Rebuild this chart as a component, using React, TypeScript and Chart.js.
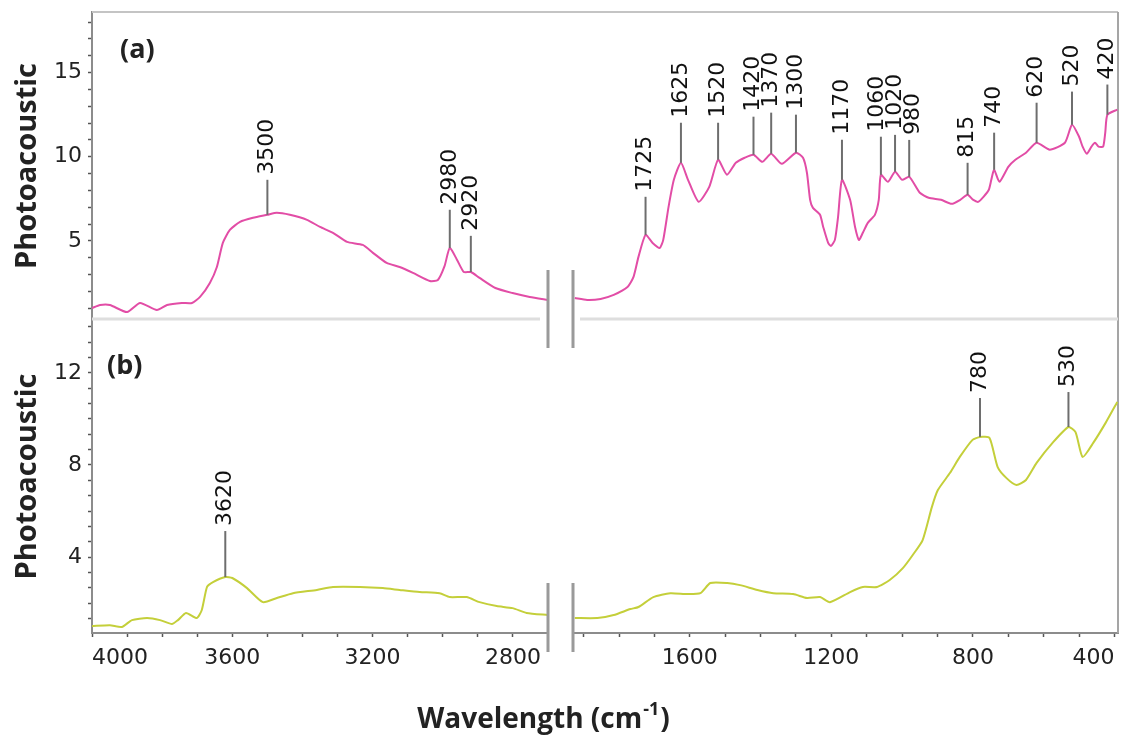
import React, { useEffect, useRef } from 'react';
import { Chart, registerables } from 'chart.js';

Chart.register(...registerables);

// ---------- Panel (a) : pink spectrum ----------
const aLeftWavenumber = [4000, 3977, 3949, 3900, 3863, 3815, 3786, 3744, 3715, 3692, 3664, 3644, 3627, 3607, 3578, 3541, 3500, 3473, 3436, 3387, 3350, 3313, 3273, 3228, 3199, 3160, 3123, 3085, 3037, 3014, 2995, 2980, 2960, 2940, 2920, 2895, 2850, 2801, 2752, 2700];
const aLeftSignal = [1.01, 1.19, 1.19, 0.77, 1.31, 0.89, 1.19, 1.31, 1.31, 1.67, 2.5, 3.45, 4.88, 5.65, 6.13, 6.37, 6.55, 6.67, 6.55, 6.25, 5.83, 5.48, 4.94, 4.76, 4.29, 3.69, 3.45, 3.10, 2.62, 2.68, 3.5, 4.58, 3.9, 3.15, 3.15, 2.80, 2.20, 1.90, 1.67, 1.49];

const aRightWavenumber = [1925, 1890, 1852, 1815, 1776, 1759, 1745, 1725, 1705, 1685, 1675, 1660, 1645, 1625, 1605, 1575, 1545, 1520, 1495, 1470, 1445, 1420, 1395, 1370, 1340, 1300, 1280, 1269, 1260, 1252, 1232, 1223, 1209, 1201, 1190, 1181, 1170, 1147, 1133, 1122, 1111, 1097, 1077, 1066, 1060, 1040, 1020, 1000, 980, 950, 925, 890, 860, 835, 815, 800, 785, 770, 755, 748, 740, 725, 700, 680, 650, 620, 583, 540, 520, 500, 490, 478, 465, 455, 445, 432, 426, 420, 392];
const aRightSignal = [1.61, 1.49, 1.55, 1.79, 2.26, 2.86, 4.05, 5.36, 4.88, 4.58, 5.06, 7.02, 8.63, 9.64, 8.63, 7.32, 8.21, 9.82, 8.93, 9.64, 9.94, 10.12, 9.70, 10.18, 9.58, 10.24, 9.94, 9.05, 7.44, 6.96, 6.55, 5.83, 4.88, 4.70, 5.06, 6.43, 8.63, 7.44, 5.83, 5.06, 5.48, 6.07, 6.55, 7.44, 8.93, 8.51, 9.11, 8.63, 8.81, 7.86, 7.56, 7.44, 7.20, 7.45, 7.74, 7.45, 7.32, 7.62, 8.04, 8.63, 9.23, 8.51, 9.40, 9.82, 10.24, 10.83, 10.42, 10.83, 11.9, 11.19, 10.60, 10.18, 10.60, 10.83, 10.60, 10.60, 11.43, 12.5, 12.8];

// ---------- Panel (b) : yellow-green spectrum ----------
const bLeftWavenumber = [4000, 3949, 3915, 3886, 3843, 3806, 3772, 3755, 3732, 3701, 3687, 3672, 3655, 3620, 3600, 3558, 3513, 3473, 3427, 3359, 3313, 3236, 3171, 3123, 3066, 3009, 2980, 2932, 2895, 2846, 2801, 2761, 2700];
const bLeftSignal = [1.0, 1.04, 0.96, 1.26, 1.35, 1.26, 1.09, 1.26, 1.57, 1.35, 1.70, 2.70, 2.91, 3.13, 3.09, 2.65, 2.04, 2.22, 2.43, 2.57, 2.70, 2.70, 2.65, 2.57, 2.48, 2.43, 2.26, 2.26, 2.04, 1.87, 1.78, 1.57, 1.48];

const bRightWavenumber = [1925, 1861, 1815, 1768, 1745, 1703, 1655, 1607, 1570, 1542, 1494, 1458, 1409, 1364, 1308, 1269, 1232, 1204, 1147, 1111, 1071, 1035, 998, 970, 942, 916, 899, 865, 837, 801, 780, 753, 730, 705, 677, 650, 620, 575, 530, 510, 490, 460, 425, 392];
const bRightSignal = [1.35, 1.35, 1.48, 1.74, 1.83, 2.26, 2.43, 2.39, 2.43, 2.87, 2.87, 2.78, 2.57, 2.43, 2.39, 2.22, 2.26, 2.04, 2.48, 2.70, 2.70, 3.0, 3.52, 4.09, 4.74, 6.17, 6.91, 7.65, 8.35, 9.09, 9.22, 9.17, 7.91, 7.43, 7.13, 7.35, 8.09, 8.96, 9.65, 9.43, 8.35, 8.96, 9.83, 10.74];

// ---------- Peak annotations (wavenumber, height of the marker tip) ----------
const peakAWavenumber = [3500, 2980, 2920, 1725, 1625, 1520, 1420, 1370, 1300, 1170, 1060, 1020, 980, 815, 740, 620, 520, 420];
const peakATip = [8.63, 6.85, 5.30, 7.62, 12.02, 12.02, 12.38, 12.62, 12.5, 11.01, 11.19, 11.3, 11.0, 9.64, 11.43, 13.21, 13.87, 14.29];
const peakBWavenumber = [3620, 780, 530];
const peakBTip = [5.13, 10.91, 11.17];

// ---------- Axes ----------
const xLeftRange = [2700, 4000];
const xRightRange = [390, 1930];
const xLeftTicks = [2700, 2800, 2900, 3000, 3100, 3200, 3300, 3400, 3500, 3600, 3700, 3800, 3900, 4000];
const xLeftLabels = [2800, 3200, 3600, 4000];
const xRightTicks = [400, 500, 600, 700, 800, 900, 1000, 1100, 1200, 1300, 1400, 1500, 1600, 1700, 1800, 1900];
const xRightLabels = [400, 800, 1200, 1600];
const yARange = [0.3, 18.6];
const yATicks = [1, 2, 3, 4, 5, 6, 7, 8, 9, 10, 11, 12, 13, 14, 15, 16, 17, 18];
const yALabels = [5, 10, 15];
const yBRange = [0.7, 14.3];
const yBTicks = [1.333, 2, 2.667, 3.333, 4, 4.667, 5.333, 6, 6.667, 7.333, 8, 8.667, 9.333, 10, 10.667, 11.333, 12, 12.667, 13.333, 14];
const yBLabels = [4, 8, 12];

const PINK = '#e24da6';
const YELLOW = '#c4cf3a';

function toPoints(wn: number[], v: number[]) {
  return wn.map((w, i) => ({ x: w, y: v[i] }));
}

function interp(wn: number[], v: number[], w: number): number {
  for (let i = 0; i < wn.length - 1; i++) {
    const a = wn[i];
    const b = wn[i + 1];
    if ((w <= a && w >= b) || (w >= a && w <= b)) {
      const t = a === b ? 0 : (w - a) / (b - a);
      return v[i] + t * (v[i + 1] - v[i]);
    }
  }
  return v[v.length - 1];
}

function spread(xs: number[], gap: number): number[] {
  const idx = xs.map((_, i) => i).sort((p, q) => xs[p] - xs[q]);
  const pos = idx.map((i) => xs[i]);
  for (let it = 0; it < 60; it++) {
    let moved = false;
    for (let k = 1; k < pos.length; k++) {
      const d = pos[k] - pos[k - 1];
      if (d < gap - 0.01) {
        const m = (gap - d) / 2;
        pos[k - 1] -= m;
        pos[k] += m;
        moved = true;
      }
    }
    if (!moved) break;
  }
  const out: number[] = new Array(xs.length);
  idx.forEach((i, k) => {
    out[i] = pos[k];
  });
  return out;
}

const decorPlugin = {
  id: 'spectraDecor',
  beforeDatasetsDraw(chart: any) {
    const { ctx } = chart;
    const { xl, xr, ya, yb } = chart.scales;
    ctx.save();
    // frame top
    ctx.strokeStyle = '#c4c4c4';
    ctx.lineWidth = 2;
    ctx.beginPath();
    ctx.moveTo(xl.left, ya.top);
    ctx.lineTo(xr.right, ya.top);
    ctx.stroke();
    // frame right
    ctx.strokeStyle = '#a5a5a5';
    ctx.beginPath();
    ctx.moveTo(xr.right, ya.top);
    ctx.lineTo(xr.right, yb.bottom);
    ctx.stroke();
    // separator between panels
    ctx.strokeStyle = '#dedede';
    ctx.lineWidth = 3;
    ctx.beginPath();
    ctx.moveTo(xl.left, ya.bottom - 1);
    ctx.lineTo(xl.right - 8, ya.bottom - 1);
    ctx.moveTo(xr.left + 7, ya.bottom - 1);
    ctx.lineTo(xr.right, ya.bottom - 1);
    ctx.stroke();
    ctx.restore();
  },
  afterDatasetsDraw(chart: any) {
    const { ctx } = chart;
    const { xl, xr, ya, yb } = chart.scales;
    ctx.save();

    // axis break marks
    ctx.strokeStyle = '#9a9a9a';
    ctx.lineWidth = 3;
    [xl.right, xr.left].forEach((x: number) => {
      ctx.beginPath();
      ctx.moveTo(x, ya.bottom - 50);
      ctx.lineTo(x, ya.bottom + 28);
      ctx.moveTo(x, yb.bottom - 50);
      ctx.lineTo(x, yb.bottom + 19);
      ctx.stroke();
    });

    // peak markers
    const drawPeaks = (
      wns: number[],
      tips: number[],
      left: [number[], number[]],
      right: [number[], number[]],
      yScale: any
    ) => {
      const pxs = wns.map((w) => (w >= xLeftRange[0] ? xl : xr).getPixelForValue(w));
      const lx = spread(pxs, 18);
      wns.forEach((w, i) => {
        const ser = w >= xLeftRange[0] ? left : right;
        const base = interp(ser[0], ser[1], w);
        const px = pxs[i];
        const y0 = yScale.getPixelForValue(base);
        const y1 = yScale.getPixelForValue(tips[i]);
        ctx.strokeStyle = '#6e6e6e';
        ctx.lineWidth = 2;
        ctx.beginPath();
        ctx.moveTo(px, y0);
        ctx.lineTo(px, y1);
        ctx.stroke();
        ctx.save();
        ctx.translate(lx[i], y1 - 5);
        ctx.rotate(-Math.PI / 2);
        ctx.font = '22px "DejaVu Sans"';
        ctx.fillStyle = '#111';
        ctx.textAlign = 'left';
        ctx.textBaseline = 'middle';
        ctx.fillText(String(w), 0, 0);
        ctx.restore();
      });
    };
    drawPeaks(peakAWavenumber, peakATip, [aLeftWavenumber, aLeftSignal], [aRightWavenumber, aRightSignal], ya);
    drawPeaks(peakBWavenumber, peakBTip, [bLeftWavenumber, bLeftSignal], [bRightWavenumber, bRightSignal], yb);

    // panel labels
    ctx.fillStyle = '#222';
    ctx.font = 'bold 27px "Open Sans"';
    ctx.textAlign = 'left';
    ctx.textBaseline = 'middle';
    ctx.fillText('(a)', xl.left + 28, ya.top + 38);
    ctx.fillText('(b)', xl.left + 15, yb.top + 46);

    // x-axis title with superscript
    const cx = (xl.right + xr.left) / 2 - 17;
    const by = chart.height - 8;
    const mainFont = 'bold 28px "Open Sans"';
    const supFont = 'bold 18px "Open Sans"';
    ctx.textBaseline = 'alphabetic';
    ctx.font = mainFont;
    const main = 'Wavelength (cm';
    const wMain = ctx.measureText(main).width;
    const wClose = ctx.measureText(')').width;
    ctx.font = supFont;
    const sup = '-1';
    const wSup = ctx.measureText(sup).width;
    const total = wMain + wSup + wClose + 2;
    let sx = cx - total / 2;
    ctx.font = mainFont;
    ctx.fillText(main, sx, by);
    sx += wMain + 1;
    ctx.font = supFont;
    ctx.fillText(sup, sx, by - 13);
    sx += wSup + 1;
    ctx.font = mainFont;
    ctx.fillText(')', sx, by);

    ctx.restore();
  },
};

const tickFont = { family: 'DejaVu Sans', size: 22 };

function yAxis(range: number[], ticks: number[], labels: number[], weight: number, stackWeight: number) {
  return {
    type: 'linear',
    axis: 'y',
    position: 'left',
    stack: 'panels',
    stackWeight,
    weight,
    min: range[0],
    max: range[1],
    afterBuildTicks: (s: any) => {
      s.ticks = ticks.map((v) => ({ value: v }));
    },
    afterFit: (s: any) => {
      s.width = 92;
      s.paddingTop = 0;
      s.paddingBottom = 0;
    },
    ticks: {
      font: tickFont,
      color: '#222',
      padding: 6,
      autoSkip: false,
      callback: (v: number) => {
        const hit = labels.find((l) => Math.abs(l - v) < 0.01);
        return hit !== undefined ? String(hit) : '';
      },
    },
    grid: {
      display: true,
      drawOnChartArea: false,
      drawTicks: true,
      tickLength: 4,
      tickColor: '#555',
      tickWidth: 1.5,
    },
    border: { display: true, color: '#8c8c8c', width: 2 },
    title: {
      display: true,
      text: 'Photoacoustic',
      color: '#222',
      font: { family: 'Open Sans', weight: 'bold', size: 29 },
      padding: { top: 10, bottom: 0 },
    },
  };
}

function xAxis(range: number[], ticks: number[], labels: number[], weight: number, stackWeight: number) {
  return {
    type: 'linear',
    axis: 'x',
    position: 'bottom',
    stack: 'wn',
    stackWeight,
    weight,
    min: range[0],
    max: range[1],
    reverse: true,
    afterBuildTicks: (s: any) => {
      s.ticks = ticks.map((v) => ({ value: v }));
    },
    afterFit: (s: any) => {
      s.height = 103;
      s.paddingLeft = 0;
      s.paddingRight = 0;
    },
    ticks: {
      font: tickFont,
      color: '#222',
      padding: 8,
      align: 'inner',
      autoSkip: false,
      maxRotation: 0,
      minRotation: 0,
      callback: (v: number) => (labels.includes(v) ? String(v) : ''),
    },
    grid: {
      display: true,
      drawOnChartArea: false,
      drawTicks: true,
      tickLength: 4,
      tickWidth: 1.5,
      tickColor: (c: any) => (c.tick && (c.tick.value === xLeftRange[0]) ? 'rgba(0,0,0,0)' : '#555'),
    },
    border: { display: true, color: '#8c8c8c', width: 2 },
  };
}

export default function App() {
  const ref = useRef<HTMLCanvasElement | null>(null);

  useEffect(() => {
    if (!ref.current) return;
    const lineStyle = (color: string) => ({
      borderColor: color,
      backgroundColor: color,
      borderWidth: 2,
      pointRadius: 0,
      tension: 0.2,
      fill: false,
    });
    const chart = new Chart(ref.current, {
      type: 'line',
      data: {
        datasets: [
          { data: toPoints(aLeftWavenumber, aLeftSignal), xAxisID: 'xl', yAxisID: 'ya', ...lineStyle(PINK) },
          { data: toPoints(aRightWavenumber, aRightSignal), xAxisID: 'xr', yAxisID: 'ya', ...lineStyle(PINK) },
          { data: toPoints(bLeftWavenumber, bLeftSignal), xAxisID: 'xl', yAxisID: 'yb', ...lineStyle(YELLOW) },
          { data: toPoints(bRightWavenumber, bRightSignal), xAxisID: 'xr', yAxisID: 'yb', ...lineStyle(YELLOW) },
        ],
      } as any,
      options: {
        responsive: false,
        animation: false,
        events: [],
        layout: { autoPadding: false, padding: { left: 0, top: 12, right: 11, bottom: 0 } },
        plugins: { legend: { display: false }, tooltip: { enabled: false } },
        scales: {
          ya: yAxis(yARange, yATicks, yALabels, 2, 308),
          yb: yAxis(yBRange, yBTicks, yBLabels, 1, 313),
          xl: xAxis(xLeftRange, xLeftTicks, xLeftLabels, 1, 456),
          xg: {
            type: 'linear',
            axis: 'x',
            position: 'bottom',
            stack: 'wn',
            stackWeight: 25,
            weight: 2,
            min: 0,
            max: 1,
            afterFit: (s: any) => {
              s.height = 103;
              s.paddingLeft = 0;
              s.paddingRight = 0;
            },
            ticks: { display: false },
            grid: { display: false },
            border: { display: false },
          },
          xr: xAxis(xRightRange, xRightTicks, xRightLabels, 3, 545),
        },
      } as any,
      plugins: [decorPlugin],
    });
    return () => chart.destroy();
  }, []);

  return (
    <div style={{ position: 'fixed', left: 0, top: 0, width: 1129, height: 736, background: '#fff' }}>
      <canvas ref={ref} width={1129} height={736} style={{ display: 'block' }} />
    </div>
  );
}
